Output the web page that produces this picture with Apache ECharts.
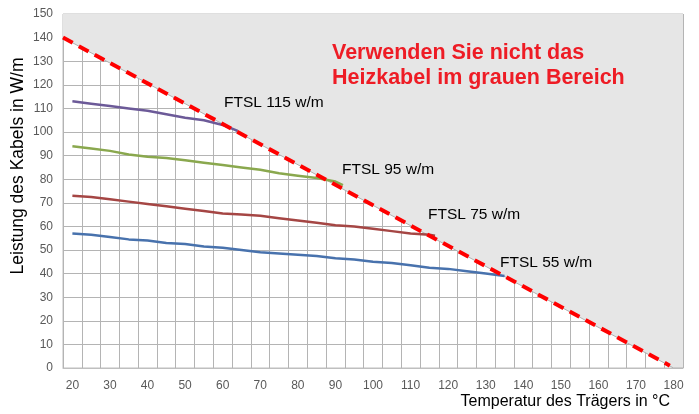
<!DOCTYPE html>
<html lang="de">
<head>
<meta charset="UTF-8">
<script src="https://cdn.jsdelivr.net/npm/echarts@6/dist/echarts.min.js"></script>
<title>FTSL Heizkabel</title>
<style>
  html, body { margin: 0; padding: 0; background: #fff; }
  #chart { width: 699px; height: 414px; }
</style>
</head>
<body>
<div id="chart"></div>
<script>
// x categories (every 5 °C, labels every 10)
var temps = ['20','25','30','35','40','45','50','55','60','65','70','75','80','85','90','95','100',
             '105','110','115','120','125','130','135','140','145','150','155','160','165','170','175','180'];

// cable curves: [temperature, W/m]
var ftsl115 = [[20,113],[25,112],[30,111],[35,110],[40,109],[45,107.5],[50,106],[55,105],[60,103],[64,100.5]];
var ftsl95 = [[20,94],[25,93],[30,92],[35,90.5],[40,89.5],[45,89],[50,88],[55,87],[60,86],[65,85],[70,84],
              [75,82.5],[80,81.5],[85,80.5],[90,79],[92,77.5]];
var ftsl75 = [[20,73],[25,72.5],[30,71.5],[35,70.5],[40,69.5],[45,68.5],[50,67.5],[55,66.5],[60,65.5],[65,65],
              [70,64.5],[75,63.5],[80,62.5],[85,61.5],[90,60.5],[95,60],[100,59],[105,58],[110,57],[115,56.5],[116.5,56]];
var ftsl55 = [[20,57],[25,56.5],[30,55.5],[35,54.5],[40,54],[45,53],[50,52.5],[55,51.5],[60,51],[65,50],[70,49],
              [75,48.5],[80,48],[85,47.5],[90,46.5],[95,46],[100,45],[105,44.5],[110,43.5],[115,42.5],[120,42],
              [125,41],[130,40],[135,39]];

// limit line and grey zone above it
var limitLine = [[17.5,140],[179,1]];
var greyZone = [[17.5,140],[180,0],[182.5,0]];

var labels = [
  {text: 'FTSL 115 w/m', x: 224, y: 103},
  {text: 'FTSL 95 w/m', x: 342, y: 170},
  {text: 'FTSL 75 w/m', x: 428, y: 215},
  {text: 'FTSL 55 w/m', x: 500, y: 263}
];

var FONT = '"Liberation Sans", Arial, sans-serif';
var chart = echarts.init(document.getElementById('chart'));

function curve(name, data, color) {
  return {
    name: name, type: 'line', xAxisIndex: 1, data: data,
    symbol: 'none', smooth: false, z: 3,
    lineStyle: {color: color, width: 2.5}
  };
}

var graphics = labels.map(function (l) {
  return {
    type: 'text', x: l.x, y: l.y, z: 100,
    style: {text: l.text, font: '15.5px ' + FONT, fill: '#000', textVerticalAlign: 'middle'}
  };
});
graphics.push({
  type: 'text', x: 332, y: 53, z: 100,
  style: {text: 'Verwenden Sie nicht das', font: 'bold 21.5px ' + FONT,
          fill: '#ee1c25', textVerticalAlign: 'middle'}
});
graphics.push({
  type: 'text', x: 332, y: 78, z: 100,
  style: {text: 'Heizkabel im grauen Bereich', font: 'bold 21.5px ' + FONT,
          fill: '#ee1c25', textVerticalAlign: 'middle'}
});
// axis titles
graphics.push({
  type: 'text', x: 18, y: 166, rotation: Math.PI / 2, z: 100,
  style: {text: 'Leistung des Kabels in W/m', font: '17.5px ' + FONT, fill: '#000',
          textAlign: 'center', textVerticalAlign: 'middle'}
});
graphics.push({
  type: 'text', x: 670, y: 402, z: 100,
  style: {text: 'Temperatur des Trägers in °C', font: '16px ' + FONT, fill: '#000',
          textAlign: 'right', textVerticalAlign: 'middle'}
});

var option = {
  animation: false,
  backgroundColor: '#fff',
  grid: {left: 63, right: 16, top: 14, bottom: 46, show: true, borderColor: '#bfbfbf', borderWidth: 1},
  xAxis: [{
    type: 'category', data: temps, boundaryGap: true,
    axisLine: {lineStyle: {color: '#bfbfbf'}},
    axisTick: {show: false},
    axisLabel: {interval: 1, color: '#595959', fontSize: 12, margin: 12, fontFamily: FONT},
    splitLine: {show: true, interval: 0, lineStyle: {color: '#b4b4b4', width: 1}}
  }, {
    type: 'value', min: 17.5, max: 182.5, show: false
  }],
  yAxis: {
    type: 'value', min: 0, max: 150, interval: 10,
    axisLine: {show: false},
    axisTick: {show: false},
    axisLabel: {color: '#595959', fontSize: 12, margin: 10, fontFamily: FONT},
    splitLine: {lineStyle: {color: '#b4b4b4', width: 1}}
  },
  series: [
    {
      name: 'grau', type: 'line', xAxisIndex: 1, data: greyZone, symbol: 'none', z: 2,
      lineStyle: {color: '#b0b0b0', width: 1},
      areaStyle: {color: '#e6e6e6', opacity: 1, origin: 'end'}
    },
    curve('FTSL 115 w/m', ftsl115, '#6c5a98'),
    curve('FTSL 95 w/m', ftsl95, '#8aa84e'),
    curve('FTSL 75 w/m', ftsl75, '#a54644'),
    curve('FTSL 55 w/m', ftsl55, '#4872ad'),
    {
      name: 'Grenze', type: 'line', xAxisIndex: 1, data: limitLine, symbol: 'none', z: 5,
      lineStyle: {color: '#ff0000', width: 4, type: [11, 7]}
    }
  ],
  graphic: graphics
};

chart.setOption(option);
</script>
</body>
</html>
